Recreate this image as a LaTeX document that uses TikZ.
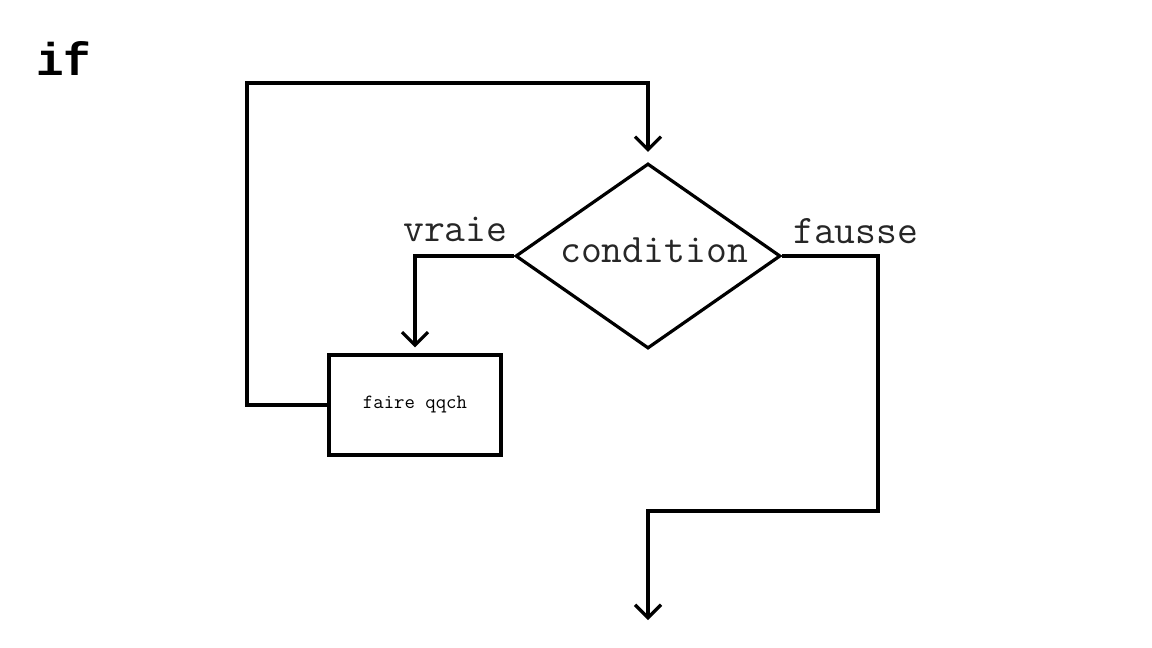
\documentclass[tikz,border=0pt]{standalone}
\usepackage{fontspec}
\newfontfamily\cour{Liberation Mono}
\usetikzlibrary{shapes.geometric,arrows.meta}
\begin{document}
\begin{tikzpicture}[x=1pt,y=-1pt,
  line/.style={line width=3.2pt,black,line join=miter},
  arr/.style={line, -{Straight Barb[length=13pt,width=26pt]}},
  lbl/.style={font=\ttfamily\fontsize{40.5}{44}\selectfont,text=black!85,inner sep=0pt},
  condshape/.style={diamond,draw,line width=3.2pt,minimum width=265pt,minimum height=185pt,inner sep=0pt},
  actbox/.style={rectangle,draw,line width=3.2pt,minimum width=172pt,minimum height=100pt,inner sep=0pt,font=\ttfamily\fontsize{20.2}{22}\selectfont}]
\useasboundingbox (0,0) rectangle (1152,648);
\node[font=\cour\bfseries\fontsize{46}{50}\selectfont,anchor=base west,inner sep=0pt] (title) at (36,75) {if};
\node[condshape] (cond) at (648,256) {};
\node[lbl,anchor=base] (condtxt) at (654,262) {condition};
\node[actbox] (act) at (415,405) {faire qqch};
\node[lbl,anchor=base west] (vraie) at (403,241) {vraie};
\node[lbl,anchor=base west] (fausse) at (793,243) {fausse};
\coordinate (lt) at (247,83);
\coordinate (fr) at (878,511);
\coordinate (out) at (648,620);
\draw[arr,shorten >=10pt] (act.west) -| (lt) -| (cond.north);
\draw[arr,shorten >=6pt] (cond.west) -| (act.north);
\draw[arr] (cond.east) -| (fr) -| (out);
\end{tikzpicture}
\end{document}
